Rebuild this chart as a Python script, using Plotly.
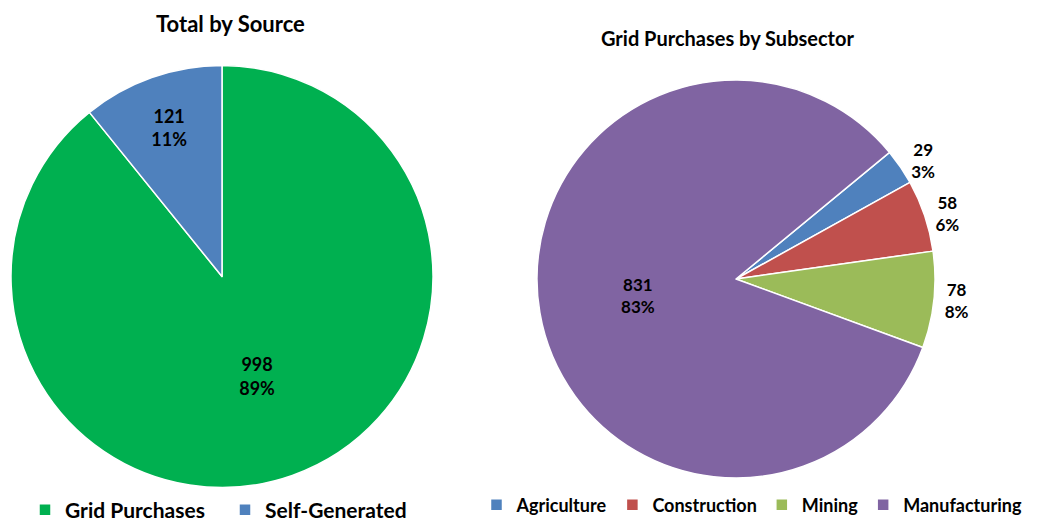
import plotly.graph_objects as go

# Data
source_labels = ["Grid Purchases", "Self-Generated"]
source_values = [998, 121]
source_colors = ["#00B050", "#4F81BD"]

sub_labels = ["Agriculture", "Construction", "Mining", "Manufacturing"]
sub_values = [29, 58, 78, 831]
sub_colors = ["#4F81BD", "#C0504D", "#9BBB59", "#8064A2"]

titles = ["Total by Source", "Grid Purchases by Subsector"]

W, H = 1049, 524
FONT = "Lato"

fig = go.Figure()

fig.add_trace(go.Pie(
    labels=source_labels, values=source_values,
    marker=dict(colors=source_colors, line=dict(color="white", width=1.5)),
    sort=False, direction="clockwise", rotation=0,
    texttemplate="%{value}<br>%{percent:.0%}",
    textposition="inside", insidetextorientation="horizontal",
    textfont=dict(family=FONT, size=18, color="black", weight="bold"),
    domain=dict(x=[11 / W, 433 / W], y=[(H - 488) / H, (H - 65) / H]),
    legend="legend", hoverinfo="label+value+percent",
))

fig.add_trace(go.Pie(
    labels=sub_labels, values=sub_values,
    marker=dict(colors=sub_colors, line=dict(color="white", width=1.5)),
    sort=False, direction="clockwise", rotation=50.5,
    texttemplate="%{value}<br>%{percent:.0%}",
    textposition=["outside", "outside", "outside", "inside"],
    insidetextorientation="horizontal",
    textfont=dict(family=FONT, size=17, color="black", weight="bold"),
    domain=dict(x=[537 / W, 935 / W], y=[(H - 478) / H, (H - 80) / H]),
    legend="legend2", hoverinfo="label+value+percent",
))

fig.add_annotation(text=titles[0], x=230 / W, y=1 - 24 / H, xref="paper", yref="paper",
                   showarrow=False, xanchor="center", yanchor="middle",
                   font=dict(family=FONT, size=22, color="black", weight="bold"))
fig.add_annotation(text=titles[1], x=727 / W, y=1 - 38 / H, xref="paper", yref="paper",
                   showarrow=False, xanchor="center", yanchor="middle",
                   font=dict(family=FONT, size=20, color="black", weight="bold"))

fig.update_layout(
    width=W, height=H,
    margin=dict(l=0, r=0, t=0, b=0, autoexpand=False),
    paper_bgcolor="white", plot_bgcolor="white",
    legend=dict(orientation="h", x=25 / W, xanchor="left", y=1 - 510 / H, yanchor="middle",
                entrywidth=155, entrywidthmode="pixels",
                font=dict(family=FONT, size=21, color="black", weight="bold"),
                bgcolor="rgba(0,0,0,0)"),
    legend2=dict(orientation="h", x=752 / W, xanchor="center", y=1 - 505 / H, yanchor="middle",
                 font=dict(family=FONT, size=18, color="black", weight="bold"),
                 bgcolor="rgba(0,0,0,0)"),
)

fig.write_html("out.html")
